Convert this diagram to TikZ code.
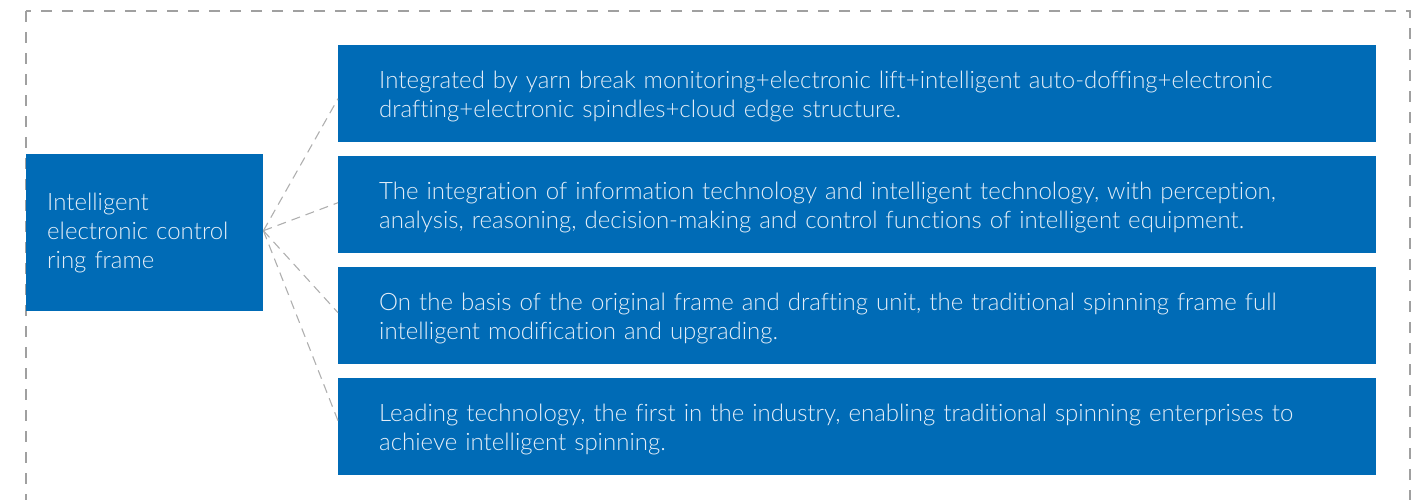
\documentclass[tikz,border=0pt]{standalone}
\usepackage{fontspec}
\setmainfont{Lato Light}[Ligatures=NoCommon]
\definecolor{boxblue}{RGB}{0,107,182}
\definecolor{txtcol}{RGB}{228,238,248}
\definecolor{bordergray}{RGB}{160,160,160}
\definecolor{linkgray}{RGB}{175,175,175}
\begin{document}
\begin{tikzpicture}[x=1pt,y=-1pt,
  bluebox/.style={fill=boxblue, draw=none, anchor=north west, text=txtcol, align=left,
     font=\fontsize{24}{29}\selectfont, inner ysep=0pt},
  leftbox/.style={bluebox, minimum width=237pt, minimum height=157pt, text width=195pt, inner xsep=21pt},
  rightbox/.style={bluebox, minimum width=1038pt, minimum height=97pt, inner sep=0pt},
  boxtext/.style={anchor=west, text=txtcol, align=left, font=\fontsize{24}{29}\selectfont,
     inner sep=0pt, text width=956pt},
  link/.style={draw=linkgray, line width=1.1pt, dash pattern=on 9pt off 6pt}]
\useasboundingbox (0,0) rectangle (1421,499);
\draw[bordergray, line width=1.3pt, dash pattern=on 11pt off 10pt] (26,11) rectangle (1410,530);
\node[leftbox] (L) at (26,154) {Intelligent\\electronic control\\ring frame};
\node[rightbox] (r1) at (338,45) {};
\node[rightbox] (r2) at (338,156) {};
\node[rightbox] (r3) at (338,267) {};
\node[rightbox] (r4) at (338,378) {};
\node[boxtext] (t1) at ([xshift=41pt,yshift=-3pt]r1.west) {Integrated by yarn break monitoring+electronic lift+intelligent auto-doffing+electronic\\drafting+electronic spindles+cloud edge structure.};
\node[boxtext] (t2) at ([xshift=41pt,yshift=-3pt]r2.west) {The integration of information technology and intelligent technology, with perception,\\analysis, reasoning, decision-making and control functions of intelligent equipment.};
\node[boxtext] (t3) at ([xshift=41pt,yshift=-3pt]r3.west) {On the basis of the original frame and drafting unit, the traditional spinning frame full\\intelligent modification and upgrading.};
\node[boxtext] (t4) at ([xshift=41pt,yshift=-3pt]r4.west) {Leading technology, the first in the industry, enabling traditional spinning enterprises to\\achieve intelligent spinning.};
\draw[link] ([yshift=2pt]L.east) -- ([yshift=-5pt]r1.west);
\draw[link] ([yshift=2pt]L.east) -- ([yshift=2pt]r2.west);
\draw[link] ([yshift=2pt]L.east) -- ([yshift=3pt]r3.west);
\draw[link] ([yshift=2pt]L.east) -- ([yshift=6pt]r4.west);
\end{tikzpicture}
\end{document}
